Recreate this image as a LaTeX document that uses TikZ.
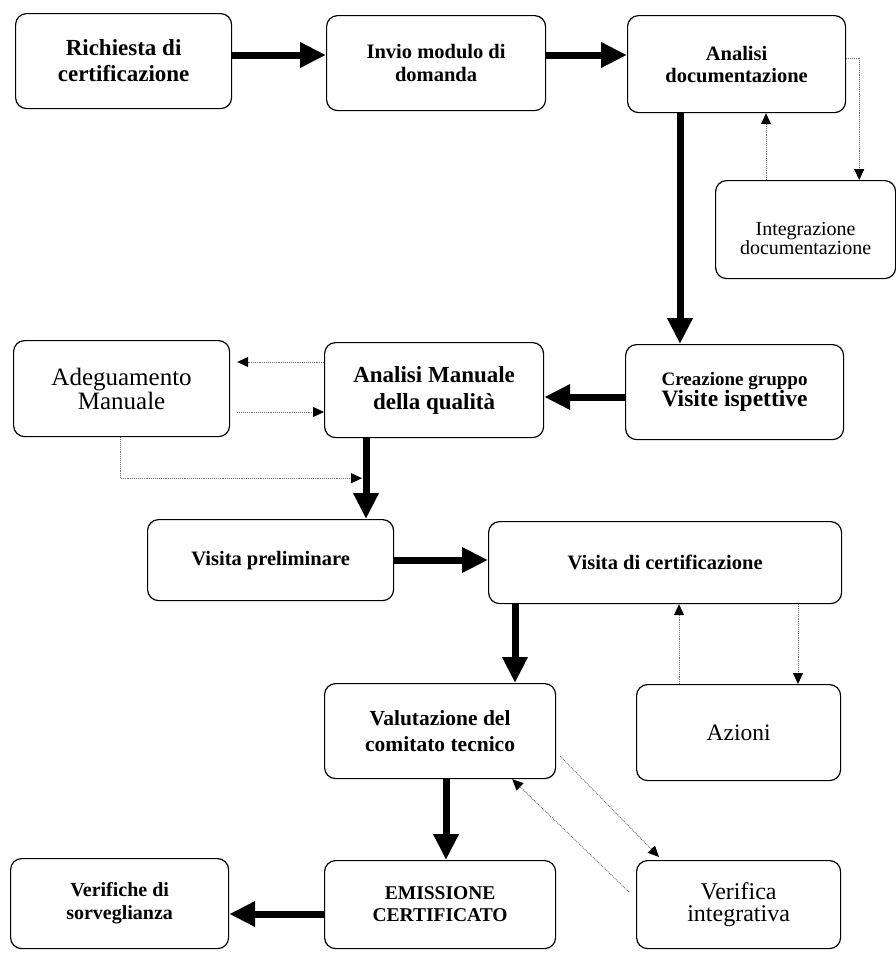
\documentclass[tikz,border=0pt]{standalone}
\usepackage{fontspec}
\setmainfont{Liberation Serif}
\usetikzlibrary{arrows.meta,calc}
\newcommand{\fs}[2]{\fontsize{#1}{#2}\selectfont}
\begin{document}
\begin{tikzpicture}[x=1pt,y=-1pt,
  box/.style={draw, line width=1.2pt, rounded corners=11pt, anchor=north west, align=center, inner sep=0pt},
  big/.style={-{Triangle[length=26pt,width=24pt]}, line width=7pt},
  dotarrow/.style={densely dotted, line width=0.9pt, draw=black!55, -{Triangle[length=11pt,width=10pt,color=black]}},
  ]
\useasboundingbox[fill=white] (0,0) rectangle (896,953);
% nodes
\node[box, minimum width=216pt, minimum height=95pt, font=\fs{23}{26}\bfseries] (rich) at (15,13) {Richiesta di\\certificazione};
\node[box, minimum width=219pt, minimum height=95pt, font=\fs{20.5}{23}\bfseries] (invio) at (326,15) {Invio modulo di\\domanda};
\node[box, minimum width=218pt, minimum height=97pt, font=\fs{20.5}{22}\bfseries] (anadoc) at (627,15) {Analisi\\documentazione};
\node[box, minimum width=180pt, minimum height=98pt, font=\fs{20}{19}] (integ) at (715,180) {\rule{0pt}{30pt}Integrazione\\documentazione};
\node[box, minimum width=216pt, minimum height=96pt, font=\fs{25}{24}] (adeg) at (13,340) {Adeguamento\\Manuale};
\node[box, minimum width=219pt, minimum height=95pt, font=\fs{23}{27}\bfseries] (anaman) at (324,342) {Analisi Manuale\\della qualità};
\node[box, minimum width=218pt, minimum height=95pt, font=\bfseries] (crea) at (625,344) {{\fs{19}{20}Creazione gruppo}\\{\fs{23.5}{24}Visite ispettive}};
\node[box, minimum width=246pt, minimum height=81pt, font=\fs{20.5}{22}\bfseries] (vprel) at (147,519) {Visita preliminare};
\node[box, minimum width=353pt, minimum height=82pt, font=\fs{20.5}{22}\bfseries] (vcert) at (488,521) {Visita di certificazione};
\node[box, minimum width=231pt, minimum height=95pt, font=\fs{21.5}{26}\bfseries] (valut) at (324,683) {Valutazione del\\comitato tecnico};
\node[box, minimum width=204pt, minimum height=96pt, font=\fs{23.5}{24}] (azioni) at (636,684) {Azioni};
\node[box, minimum width=218pt, minimum height=90pt, font=\fs{20}{23}\bfseries] (verif) at (10,858) {Verifiche di\\sorveglianza};
\node[box, minimum width=231pt, minimum height=88pt, font=\fs{19.5}{22}\bfseries] (emiss) at (324,860) {EMISSIONE\\CERTIFICATO};
\node[box, minimum width=204pt, minimum height=88pt, font=\fs{24}{22}] (vinteg) at (636,860) {Verifica\\integrativa};
% thick connectors
\draw[big] ([yshift=-42pt]rich.north east) -- ([yshift=-42pt]rich.north east -| invio.west);
\draw[big] ([yshift=-40pt]invio.north east) -- ([yshift=-40pt]invio.north east -| anadoc.west);
\draw[big] ([xshift=53pt]anadoc.south west) -- ([xshift=53pt]anadoc.south west |- crea.north);
\draw[big] ([yshift=-53pt]crea.north west) -- ([yshift=-53pt]crea.north west -| anaman.east);
\draw[big] ([xshift=42pt]anaman.south west) -- ([xshift=42pt]anaman.south west |- vprel.north);
\draw[big] ([yshift=-41pt]vprel.north east) -- ([yshift=-41pt]vprel.north east -| vcert.west);
\draw[big] ([xshift=27pt]vcert.south west) -- ([xshift=27pt]vcert.south west |- valut.north);
\draw[big] ([xshift=122pt]valut.south west) -- ([xshift=122pt]valut.south west |- emiss.north);
\draw[big] ([yshift=-54pt]emiss.north west) -- ([yshift=-54pt]emiss.north west -| verif.east);
% dotted connectors
\draw[dotarrow] ([yshift=-43pt]anadoc.north east) -| ([xshift=-37pt]integ.north east);
\draw[dotarrow] ([xshift=51pt]integ.north west) -- ([xshift=51pt]integ.north west |- anadoc.south);
\draw[dotarrow, shorten >=7pt] ([yshift=-20pt]anaman.north west) -- ([yshift=-20pt]anaman.north west -| adeg.east);
\draw[dotarrow, shorten <=7pt] ([yshift=-72pt]adeg.north east) -- ([yshift=-72pt]adeg.north east -| anaman.west);
\draw[dotarrow] ([xshift=107pt]adeg.south west) |- ([xshift=38pt,yshift=-40pt]anaman.south west);
\draw[dotarrow] ([xshift=43pt]azioni.north west) -- ([xshift=43pt]azioni.north west |- vcert.south);
\draw[dotarrow] ([xshift=310pt]vcert.south west) -- ([xshift=310pt]vcert.south west |- azioni.north);
\draw[dotarrow] ([xshift=4pt,yshift=23pt]valut.south east) -- ([xshift=23pt,yshift=3pt]vinteg.north west);
\draw[dotarrow] ([xshift=-7pt,yshift=-32pt]vinteg.north west) -- ([xshift=-44pt]valut.south east);
\end{tikzpicture}
\end{document}
